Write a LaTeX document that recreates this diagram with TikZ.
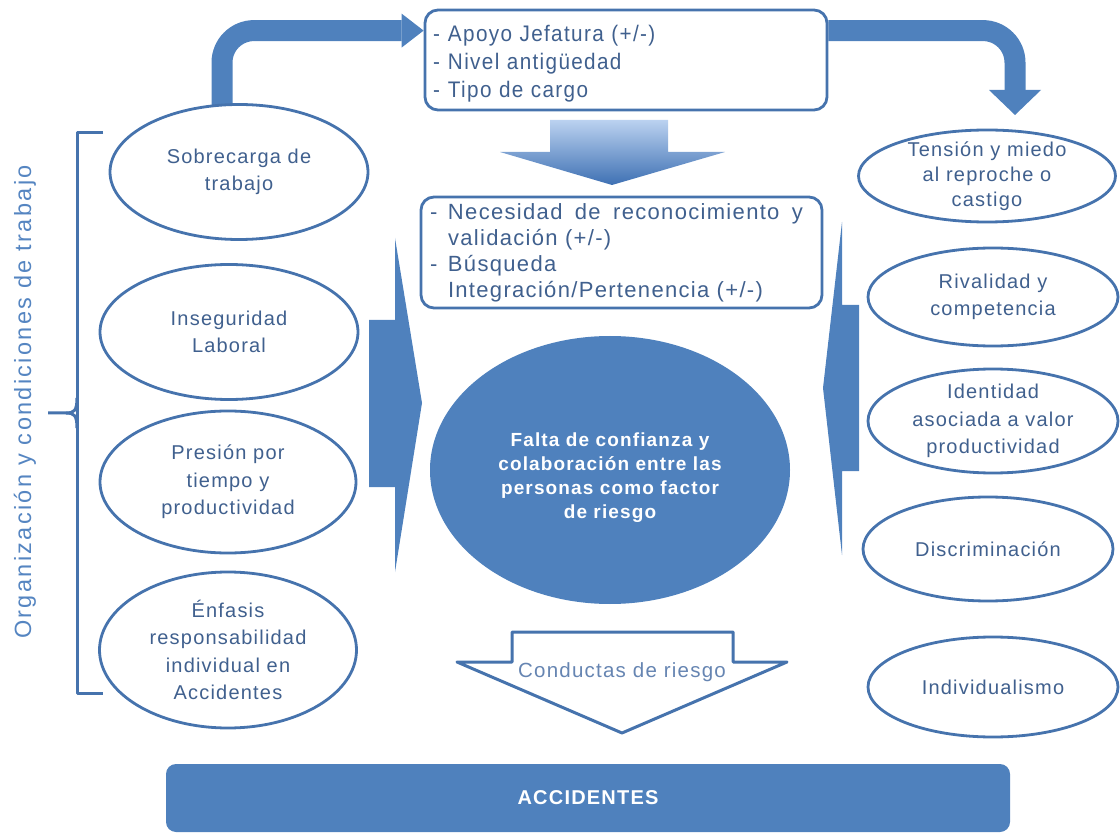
\documentclass[tikz,border=0pt]{standalone}
\usepackage{fontspec}
\setmainfont[LetterSpace=6]{Liberation Sans}
\newfontfamily\vfont[LetterSpace=10]{Liberation Sans}
\newfontfamily\nfont[LetterSpace=6,FakeStretch=0.92]{Liberation Sans}
\usetikzlibrary{shapes.geometric,backgrounds,calc}
\definecolor{ablue}{HTML}{4F81BD}
\definecolor{lblue}{HTML}{4673AD}
\definecolor{tcol}{HTML}{40608E}
\definecolor{vcol}{HTML}{5585C1}
\definecolor{ccol}{HTML}{6685B2}
\definecolor{gtop}{HTML}{BBD2F0}
\definecolor{gbot}{HTML}{3E70B3}
\begin{document}
\begin{tikzpicture}[x=1pt,y=-1pt,line join=round,
  ell/.style={ellipse, draw=lblue, line width=2.8pt, fill=white, inner sep=-20pt,
    align=center, text=tcol, font=\fontsize{20}{27.5}\selectfont},
  rbox/.style={draw=lblue, line width=2.8pt, rounded corners=13pt, fill=white,
    text=tcol, inner sep=0pt},
  blockarrow/.style={fill=ablue},
  curvearrow/.style={draw=ablue, line width=21pt, rounded corners=32pt},
  bracket/.style={draw=lblue, line width=3pt}]
\useasboundingbox (0,0) rectangle (1120,834);

% left column
\node[ell, minimum width=258pt, minimum height=135pt] (sob) at (239,172) {Sobrecarga de\\trabajo};
\node[ell, minimum width=258pt, minimum height=135pt] (ins) at (229,332) {Inseguridad\\Laboral};
\node[ell, minimum width=256pt, minimum height=142pt] (pre) at (228,482) {Presión por\\tiempo y\\productividad};
\node[ell, minimum width=257pt, minimum height=156pt] (enf) at (228,650) {Énfasis\\responsabilidad\\individual en\\Accidentes};

% right column
\node[ell, minimum width=257pt, minimum height=92pt, font=\fontsize{20}{25}\selectfont] (ten) at (987,176) {Tensión y miedo\\al reproche o\\castigo};
\node[ell, minimum width=250pt, minimum height=98pt] (riv) at (993,297) {Rivalidad y\\competencia};
\node[ell, minimum width=250pt, minimum height=104pt] (ide) at (993,421) {Identidad\\asociada a valor\\productividad};
\node[ell, minimum width=250pt, minimum height=104pt] (dis) at (988,549) {Discriminación};
\node[ell, minimum width=250pt, minimum height=100pt] (ind) at (993,687) {Individualismo};

% top box
\node[rbox, minimum width=402pt, minimum height=100pt, text width=386pt, align=left,
  font=\nfont\fontsize{22.5}{28}\selectfont] (top) at (626,60)
  {\rule{0pt}{23pt}\makebox[15pt][l]{-}Apoyo Jefatura (+/-)\\
   \makebox[15pt][l]{-}Nivel antigüedad\\
   \makebox[15pt][l]{-}Tipo de cargo};

% second box
\node[rbox, minimum width=401pt, minimum height=111pt, text width=383pt, align=left,
  font=\fontsize{22}{26}\selectfont] (mid) at (621.5,252.5)
  {\makebox[18pt][l]{-}\makebox[355pt][l]{Necesidad\hfill de\hfill reconocimiento\hfill y}\\
   \hspace*{18pt}validación (+/-)\\
   \makebox[18pt][l]{-}Búsqueda\\
   \hspace*{18pt}Integración/Pertenencia (+/-)};

% gradient arrow between the boxes
\shade[top color=gtop, bottom color=gbot]
  (550,120) -- (668,120) -- (668,152) -- (725,152) -- (612,185) -- (500,152) -- (550,152) -- cycle;

% core
\node[ellipse, fill=ablue, minimum width=360pt, minimum height=268pt, inner sep=0pt] (core) at (610,470) {};
\node[text=white, align=center, font=\bfseries\fontsize{19}{24}\selectfont] (coretext) at (610,478)
  {Falta de confianza y\\colaboración entre las\\personas como factor\\de riesgo};

% block arrows left and right
\fill[blockarrow] (369,320) -- (395,320) -- (395,238) -- (422,403) -- (395,572) -- (395,487) -- (369,487) -- cycle;
\fill[blockarrow] (859,305) -- (842,305) -- (842,222) -- (823,388) -- (842,555) -- (842,471) -- (859,471) -- cycle;

% conductas arrow
\draw[draw=lblue, line width=3pt, fill=white]
  (512,632) -- (733,632) -- (733,662) -- (787,662) -- (622,733) -- (457,662) -- (512,662) -- cycle;
\node[text=ccol, font=\fontsize{20.5}{24}\selectfont] (cond) at (622,672) {Conductas de riesgo};

% accidentes
\node[fill=ablue, rounded corners=10pt, minimum width=844pt, minimum height=68pt, inner sep=0pt,
  text=white, font=\bfseries\fontsize{20}{22}\selectfont] (acc) at (588,798) {ACCIDENTES};

% bracket and vertical label
\draw[bracket] (103,133) -- (77,133) -- (77,693) -- (103,693);
\draw[bracket] (77,398) .. controls (77,411) and (74,413) .. (66,413) -- (48,413);
\draw[bracket] (77,428) .. controls (77,415) and (74,413) .. (66,413);
\node[rotate=90, text=vcol, font=\vfont\fontsize{23.5}{26}\selectfont] (vlab) at (25,402)
  {Organización y condiciones de trabajo};

% curved arrows
\coordinate (lhead) at ($(top.north west)+(-22,22)$);
\coordinate (rstart) at ($(top.north east)+(0,22)$);
\coordinate (rhead) at (1015,90);
\begin{scope}[on background layer]
  \draw[curvearrow] ([xshift=-17pt,yshift=-8pt]sob.north) |- (lhead);
  \draw[curvearrow] (rstart) -| (rhead);
\end{scope}
\fill[blockarrow] (lhead) ++(0,-17) -- ++(22,17) -- ++(-22,17) -- cycle;
\fill[blockarrow] (rhead) ++(-26,0) -- ++(52,0) -- ++(-26,25) -- cycle;
\end{tikzpicture}
\end{document}
